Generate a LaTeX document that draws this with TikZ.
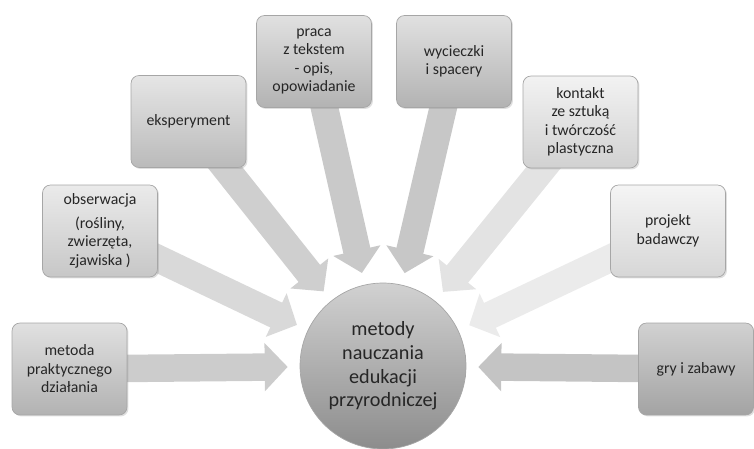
\documentclass[tikz,border=0pt]{standalone}
\usepackage{fontspec}
\setmainfont{Carlito}
\usepackage{xcolor}
\usetikzlibrary{arrows.meta, positioning, backgrounds, shadows}
\definecolor{ink}{HTML}{262626}

\begin{document}
\begin{tikzpicture}[
    x=0.02cm, y=-0.02cm,
    method/.style={rectangle, draw=black!35, rounded corners=0.16cm, minimum width=2.3cm, minimum height=1.84cm, align=center, text=ink, font=\fontsize{9}{10.5}\selectfont, top color=black!10, bottom color=black!27, drop shadow={opacity=0.25, shadow xshift=0.03cm, shadow yshift=-0.03cm}},
    hub/.style={circle, draw=black!35, minimum size=3.32cm, inner sep=1pt, align=center, text=ink, font=\fontsize{11.5}{13.5}\selectfont, top color=black!18, bottom color=black!45},
    flow/.style={draw=#1, line width=0.55cm, -{Triangle[width=0.94cm, length=0.46cm]}, shorten >=0.24cm}
]
\useasboundingbox (0,0) rectangle (754,449);

\node [hub] (hub) at (383,366) {metody\\nauczania\\edukacji\\przyrodniczej};

% methods, left to right
\node [method, top color=black!12, bottom color=black!30] (prakt) at (69.5,369) {metoda\\praktycznego\\działania};
\node [method, top color=black!8, bottom color=black!22] (obs) at (100,231) {obserwacja\\[3pt](rośliny,\\zwierzęta,\\zjawiska )};
\node [method] (eksp) at (188.5,121.5) {eksperyment};
\node [method, top color=black!12, bottom color=black!30] (praca) at (314,61.5) {praca\\z tekstem\\- opis,\\opowiadanie};
\node [method, top color=black!12, bottom color=black!30] (wyc) at (454,61.5) {wycieczki\\i spacery};
\node [method, top color=black!5, bottom color=black!18] (kont) at (580.5,122) {kontakt\\ze sztuką\\i twórczość\\plastyczna};
\node [method, top color=black!4, bottom color=black!16] (proj) at (668,231) {projekt\\badawczy};
\node [method, top color=black!18, bottom color=black!36] (gry) at (696,369) {gry i zabawy};

\begin{scope}[on background layer]
\draw [flow=black!20] (prakt.center) -- (hub);
\draw [flow=black!15] (obs.center) -- (hub);
\draw [flow=black!19] (eksp.center) -- (hub);
\draw [flow=black!21] (praca.center) -- (hub);
\draw [flow=black!22] (wyc.center) -- (hub);
\draw [flow=black!11] (kont.center) -- (hub);
\draw [flow=black!8] (proj.center) -- (hub);
\draw [flow=black!23] (gry.center) -- (hub);
\end{scope}

\end{tikzpicture}
\end{document}
